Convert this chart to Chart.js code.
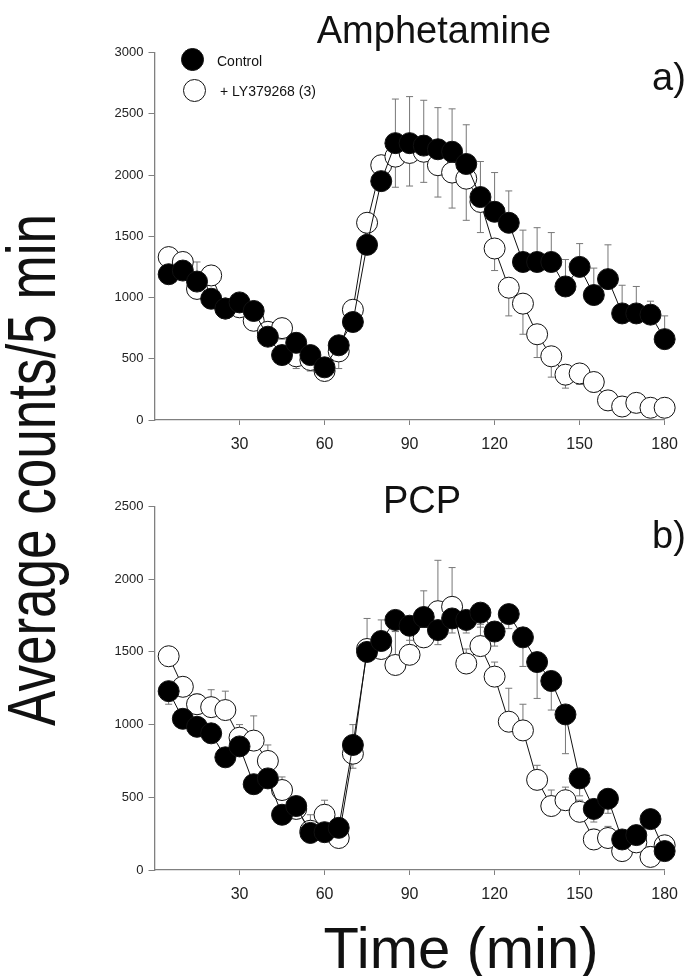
<!DOCTYPE html>
<html>
<head>
<meta charset="utf-8">
<script src="https://cdn.jsdelivr.net/npm/chart.js@4.4.1/dist/chart.umd.min.js"></script>
<style>
  body { margin: 0; background: #fff; width: 688px; height: 976px; position: relative; overflow: hidden;
         font-family: "Liberation Sans", Arial, sans-serif; color: #111; }
  canvas { position: absolute; left: 0; }
  .txt { position: absolute; white-space: nowrap; line-height: 1; }
  .dot { position: absolute; width: 21px; height: 21px; border-radius: 50%; border: 1px solid #111; }
</style>
</head>
<body>
<canvas id="chartA" width="688" height="460" style="top:0"></canvas>
<canvas id="chartB" width="688" height="440" style="top:470px"></canvas>

<div class="txt" style="left:234px;top:11px;width:400px;text-align:center;font-size:38px">Amphetamine</div>
<div class="txt" style="left:652px;top:58px;font-size:38px">a)</div>
<div class="txt" style="left:222px;top:481px;width:400px;text-align:center;font-size:38px">PCP</div>
<div class="txt" style="left:652px;top:516px;font-size:38px">b)</div>

<!-- legend -->
<div class="dot" style="left:181px;top:48px;background:#000"></div>
<div class="txt" style="left:217px;top:54px;font-size:14px">Control</div>
<div class="dot" style="left:183px;top:79px;background:#fff"></div>
<div class="txt" style="left:220px;top:84px;font-size:14px">+ LY379268 (3)</div>

<div class="txt" style="left:-369px;top:436px;width:800px;text-align:center;font-size:68px;line-height:68px;transform:rotate(-90deg) scaleX(0.78)">Average counts/5 min</div>
<div class="txt" style="left:261px;top:919px;width:400px;text-align:center;font-size:58px">Time (min)</div>

<script>
// time points (min)
const times = [5,10,15,20,25,30,35,40,45,50,55,60,65,70,75,80,85,90,
               95,100,105,110,115,120,125,130,135,140,145,150,155,160,165,170,175,180];
const xTicks = [30, 60, 90, 120, 150, 180];

// a) Amphetamine
const ampControl = [1190,1220,1130,990,910,960,890,680,530,630,530,430,610,800,1430,1950,2260,2260,
                    2240,2210,2190,2090,1820,1700,1610,1290,1290,1290,1090,1250,1020,1150,870,870,860,660];
const ampControlSem = [60,90,160,60,60,50,60,80,60,80,70,50,60,80,100,100,360,380,
                       370,340,350,320,290,320,260,260,280,240,220,190,220,280,230,220,110,190];
const ampLY = [1330,1290,1070,1180,910,920,810,720,750,520,490,400,560,900,1610,2080,2150,2180,
               2190,2080,2020,1970,1780,1400,1080,950,700,520,370,380,310,160,110,140,100,100];
const ampLYSem = [50,60,60,60,60,60,60,70,90,100,90,60,140,80,120,200,250,270,
                  250,260,290,340,250,180,230,250,190,170,110,90,80,60,40,40,30,30];

// b) PCP
const pcpControl = [1230,1040,985,940,775,850,590,630,380,440,255,260,290,860,1500,1575,1720,1680,
                    1740,1650,1730,1720,1770,1640,1760,1600,1430,1300,1070,630,420,490,210,240,350,130];
const pcpControlSem = [90,60,60,60,50,60,60,60,50,60,60,60,50,160,60,80,80,100,
                       90,100,100,90,100,100,100,200,250,200,270,120,90,100,60,80,60,40];
const pcpLY = [1470,1260,1140,1120,1100,910,890,750,550,420,270,380,220,800,1520,1520,1410,1480,
               1600,1780,1810,1420,1540,1330,1020,960,620,440,480,400,210,220,130,190,90,170];
const pcpLYSem = [40,60,70,120,130,90,170,110,90,60,110,100,60,200,210,200,230,200,
                  320,350,270,100,150,100,230,180,100,110,90,80,70,80,60,60,70,50];

const axisGray = '#808080';
Chart.defaults.font.family = '"Liberation Sans", Arial, sans-serif';
Chart.defaults.color = '#222';

// one-sided error bars, drawn under the markers
const errorBars = {
  id: 'errorBars',
  beforeDatasetsDraw(chart) {
    const ctx = chart.ctx;
    const ys = chart.scales.y;
    ctx.save();
    ctx.strokeStyle = '#777';
    ctx.lineWidth = 1;
    chart.data.datasets.forEach((ds, i) => {
      const meta = chart.getDatasetMeta(i);
      meta.data.forEach((pt, j) => {
        const v = ds.data[j].y;
        const y0 = ys.getPixelForValue(v);
        const y1 = ys.getPixelForValue(v + ds.errDir * ds.sem[j]);
        ctx.beginPath();
        ctx.moveTo(pt.x, y0);
        ctx.lineTo(pt.x, y1);
        ctx.moveTo(pt.x - 3.5, y1);
        ctx.lineTo(pt.x + 3.5, y1);
        ctx.stroke();
      });
    });
    ctx.restore();
  }
};

function pts(vals) {
  return times.map((t, i) => ({x: t, y: vals[i]}));
}

function makeChart(id, ctrl, ctrlSem, ly, lySem, yMax, padTop, ctrlDir) {
  return new Chart(document.getElementById(id), {
    type: 'line',
    data: {
      datasets: [
        { label: 'Control', data: pts(ctrl), sem: ctrlSem, errDir: ctrlDir,
          borderColor: '#111', borderWidth: 1, pointRadius: 10.5, pointBorderWidth: 1,
          pointBackgroundColor: '#000', pointBorderColor: '#111', clip: false },
        { label: '+ LY379268 (3)', data: pts(ly), sem: lySem, errDir: -ctrlDir,
          borderColor: '#111', borderWidth: 1, pointRadius: 10.5, pointBorderWidth: 1,
          pointBackgroundColor: '#fff', pointBorderColor: '#111', clip: false }
      ]
    },
    options: {
      responsive: false,
      animation: false,
      layout: { padding: { top: padTop, right: 17.5, left: 0, bottom: 0 } },
      plugins: { legend: { display: false }, tooltip: { enabled: false } },
      scales: {
        x: {
          type: 'linear', min: 0, max: 180,
          afterBuildTicks: s => { s.ticks = [0].concat(xTicks).map(v => ({value: v})); },
          afterFit: s => { s.height = 40; },
          border: { color: axisGray, width: 1.3 },
          grid: { drawOnChartArea: false, tickLength: 5,
                  color: c => (c.tick && c.tick.value === 0) ? 'rgba(0,0,0,0)' : axisGray },
          ticks: { padding: 10, font: { size: 16 }, maxRotation: 0,
                   callback: v => v === 0 ? '' : String(v) }
        },
        y: {
          min: 0, max: yMax,
          ticks: { stepSize: 500, padding: 5, font: { size: 13 }, callback: v => String(v) },
          afterFit: s => { s.width = 154.5; },
          border: { color: axisGray, width: 1.3 },
          grid: { drawOnChartArea: false, tickLength: 6, color: axisGray }
        }
      }
    },
    plugins: [errorBars]
  });
}

// top chart area: y 52.5..414.5 ; bottom chart area (canvas at 470): 506.5..865
makeChart('chartA', ampControl, ampControlSem, ampLY, ampLYSem, 3000, 52.5, 1);
makeChart('chartB', pcpControl, pcpControlSem, pcpLY, pcpLYSem, 2500, 36.5, -1);
</script>
</body>
</html>
